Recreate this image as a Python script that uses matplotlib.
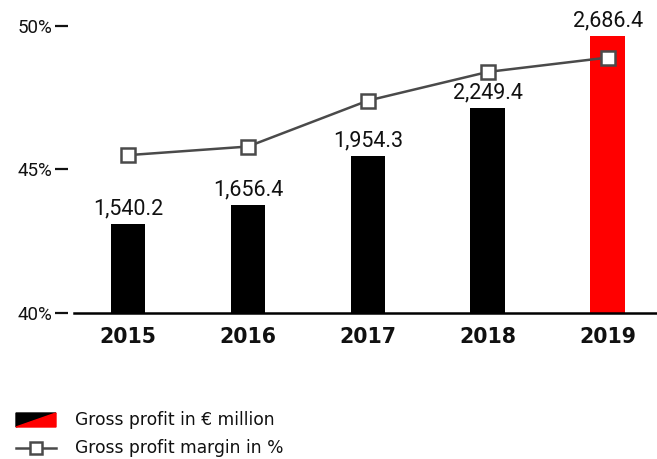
import matplotlib
matplotlib.use("Agg")
import matplotlib.pyplot as plt
from matplotlib.patches import Polygon
from matplotlib.lines import Line2D

years = ["2015", "2016", "2017", "2018", "2019"]
gross_profit = [1540.2, 1656.4, 1954.3, 2249.4, 2686.4]
margin_pct = [45.5, 45.8, 47.4, 48.4, 48.9]
pct_ticks = [40, 45, 50]
pct_labels = ["40%", "45%", "50%"]
bar_colors = ["#000000", "#000000", "#000000", "#000000", "#ff0000"]
value_labels = ["1,540.2", "1,656.4", "1,954.3", "2,249.4", "2,686.4"]

plt.rcParams["font.family"] = ["Roboto", "DejaVu Sans"]

W, H = 657, 459
fig = plt.figure(figsize=(W / 100, H / 100), dpi=100)

left = 74 / W
bottom = 1 - 313 / H
top = 1 - 26 / H
ax = fig.add_axes([left, bottom, 1 - left, top - bottom])
ax2 = ax.twinx()

x = list(range(len(years)))
ax.set_xlim(-0.45, 4.41)
ax2.set_xlim(-0.45, 4.41)

# bars on secondary scale
ax.set_ylim(40, 50)
ax2.set_ylim(1000, 2750)
ax2.bar(x, gross_profit, width=0.29, color=bar_colors, zorder=2)
for xi, v, lab in zip(x, gross_profit, value_labels):
    ax2.annotate(lab, (xi, v), xytext=(0, 7), textcoords="offset points",
                 ha="center", va="baseline", fontsize=15.5, color="#111111")

# line on primary (percent) axis drawn above bars
ax.set_zorder(ax2.get_zorder() + 1)
ax.patch.set_visible(False)
ax.plot(x, margin_pct, color="#4a4a4a", lw=1.8, marker="s", markersize=10,
        markerfacecolor="white", markeredgecolor="#4a4a4a", markeredgewidth=1.8,
        clip_on=False, zorder=5)

# percent axis
ax.set_yticks(pct_ticks)
ax.set_yticklabels(pct_labels)
ax.spines["left"].set_position(("outward", 4.3))
ax.spines["left"].set_visible(False)
ax.tick_params(axis="y", direction="out", length=9.5, width=1.6, pad=2,
               colors="#111111", labelsize=13.5)
for s in ["right", "top"]:
    ax.spines[s].set_visible(False)
ax.spines["bottom"].set_linewidth(1.8)
ax.spines["bottom"].set_color("#000000")
ax.set_xticks(x)
ax.set_xticklabels(years, fontsize=14.8, fontweight="bold", color="#111111",
                   family=["DejaVu Sans"])
ax.tick_params(axis="x", length=0, pad=10)

ax2.set_yticks([])
for s in ax2.spines.values():
    s.set_visible(False)

# legend
def fx(px):
    return px / W

def fy(py):
    return 1 - py / H

x0, x1, y0, y1 = 16, 56, 413, 427
fig.patches.append(Polygon([(fx(x0), fy(y0)), (fx(x1), fy(y0)), (fx(x0), fy(y1))],
                           closed=True, transform=fig.transFigure, color="#000000"))
fig.patches.append(Polygon([(fx(x0), fy(y1)), (fx(x1), fy(y0)), (fx(x1), fy(y1))],
                           closed=True, transform=fig.transFigure, color="#ff0000"))
fig.text(fx(75), fy(420), "Gross profit in € million", fontsize=12.3,
         va="center", ha="left", color="#111111", family=["DejaVu Sans"])
fig.lines.append(Line2D([fx(16), fx(56)], [fy(448), fy(448)], transform=fig.transFigure,
                        color="#4a4a4a", lw=1.8))
fig.lines.append(Line2D([fx(36)], [fy(448)], transform=fig.transFigure, marker="s",
                        markersize=9, markerfacecolor="white", markeredgecolor="#4a4a4a",
                        markeredgewidth=1.8, lw=0))
fig.text(fx(75), fy(448), "Gross profit margin in %", fontsize=12.3,
         va="center", ha="left", color="#111111", family=["DejaVu Sans"])

fig.savefig("out.png", dpi=100)
